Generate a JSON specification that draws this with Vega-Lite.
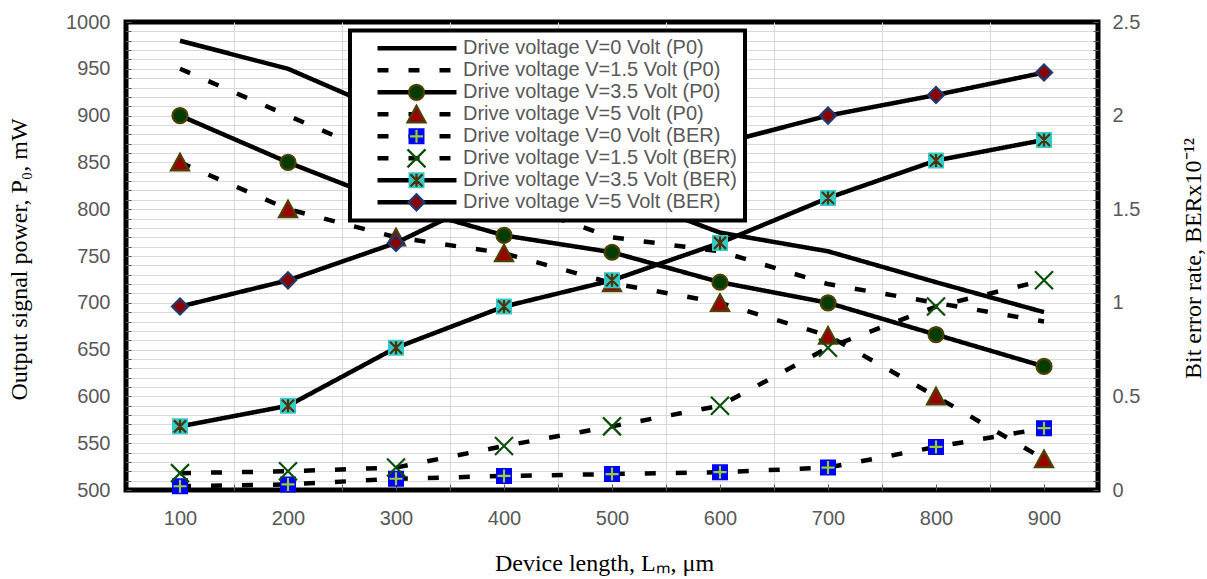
{
  "$schema": "https://vega.github.io/schema/vega-lite/v6.json",
  "width": 972,
  "height": 468,
  "autosize": {"type": "none"},
  "padding": {"left": 126, "top": 22, "right": 109, "bottom": 89},
  "background": "#ffffff",
  "config": {
    "view": {"stroke": "#000000", "strokeWidth": 5},
    "axis": {
      "labelFont": "Liberation Sans",
      "labelFontSize": 20,
      "labelColor": "#595959",
      "titleFont": "Liberation Serif",
      "titleFontSize": 24,
      "titleFontWeight": "normal",
      "titleColor": "#000000",
      "domain": false,
      "gridColor": "#d9d9d9",
      "gridWidth": 1,
      "tickColor": "#595959",
      "tickWidth": 1
    },
    "legend": {
      "labelFont": "Liberation Sans",
      "labelFontSize": 20,
      "labelColor": "#595959",
      "labelLimit": 600,
      "strokeWidth": 4
    }
  },
  "datasets": {
    "p0": [
      {"L": 100, "s": "Drive voltage V=0 Volt (P0)", "P": 980},
      {"L": 200, "s": "Drive voltage V=0 Volt (P0)", "P": 950},
      {"L": 300, "s": "Drive voltage V=0 Volt (P0)", "P": 900},
      {"L": 400, "s": "Drive voltage V=0 Volt (P0)", "P": 860},
      {"L": 500, "s": "Drive voltage V=0 Volt (P0)", "P": 818},
      {"L": 600, "s": "Drive voltage V=0 Volt (P0)", "P": 775},
      {"L": 700, "s": "Drive voltage V=0 Volt (P0)", "P": 755},
      {"L": 800, "s": "Drive voltage V=0 Volt (P0)", "P": 722},
      {"L": 900, "s": "Drive voltage V=0 Volt (P0)", "P": 690},
      {"L": 100, "s": "Drive voltage V=1.5 Volt (P0)", "P": 950},
      {"L": 200, "s": "Drive voltage V=1.5 Volt (P0)", "P": 900},
      {"L": 300, "s": "Drive voltage V=1.5 Volt (P0)", "P": 850},
      {"L": 400, "s": "Drive voltage V=1.5 Volt (P0)", "P": 810},
      {"L": 500, "s": "Drive voltage V=1.5 Volt (P0)", "P": 770},
      {"L": 600, "s": "Drive voltage V=1.5 Volt (P0)", "P": 755},
      {"L": 700, "s": "Drive voltage V=1.5 Volt (P0)", "P": 720},
      {"L": 800, "s": "Drive voltage V=1.5 Volt (P0)", "P": 700},
      {"L": 900, "s": "Drive voltage V=1.5 Volt (P0)", "P": 680},
      {"L": 100, "s": "Drive voltage V=3.5 Volt (P0)", "P": 900},
      {"L": 200, "s": "Drive voltage V=3.5 Volt (P0)", "P": 850},
      {"L": 300, "s": "Drive voltage V=3.5 Volt (P0)", "P": 805},
      {"L": 400, "s": "Drive voltage V=3.5 Volt (P0)", "P": 772},
      {"L": 500, "s": "Drive voltage V=3.5 Volt (P0)", "P": 754},
      {"L": 600, "s": "Drive voltage V=3.5 Volt (P0)", "P": 722},
      {"L": 700, "s": "Drive voltage V=3.5 Volt (P0)", "P": 700},
      {"L": 800, "s": "Drive voltage V=3.5 Volt (P0)", "P": 666},
      {"L": 900, "s": "Drive voltage V=3.5 Volt (P0)", "P": 632},
      {"L": 100, "s": "Drive voltage V=5 Volt (P0)", "P": 850},
      {"L": 200, "s": "Drive voltage V=5 Volt (P0)", "P": 800},
      {"L": 300, "s": "Drive voltage V=5 Volt (P0)", "P": 770},
      {"L": 400, "s": "Drive voltage V=5 Volt (P0)", "P": 753},
      {"L": 500, "s": "Drive voltage V=5 Volt (P0)", "P": 721},
      {"L": 600, "s": "Drive voltage V=5 Volt (P0)", "P": 700},
      {"L": 700, "s": "Drive voltage V=5 Volt (P0)", "P": 665},
      {"L": 800, "s": "Drive voltage V=5 Volt (P0)", "P": 600},
      {"L": 900, "s": "Drive voltage V=5 Volt (P0)", "P": 533}
    ],
    "ber": [
      {"L": 100, "s": "Drive voltage V=0 Volt (BER)", "B": 0.02},
      {"L": 200, "s": "Drive voltage V=0 Volt (BER)", "B": 0.03},
      {"L": 300, "s": "Drive voltage V=0 Volt (BER)", "B": 0.06},
      {"L": 400, "s": "Drive voltage V=0 Volt (BER)", "B": 0.075},
      {"L": 500, "s": "Drive voltage V=0 Volt (BER)", "B": 0.085},
      {"L": 600, "s": "Drive voltage V=0 Volt (BER)", "B": 0.095},
      {"L": 700, "s": "Drive voltage V=0 Volt (BER)", "B": 0.12},
      {"L": 800, "s": "Drive voltage V=0 Volt (BER)", "B": 0.23},
      {"L": 900, "s": "Drive voltage V=0 Volt (BER)", "B": 0.33},
      {"L": 100, "s": "Drive voltage V=1.5 Volt (BER)", "B": 0.09},
      {"L": 200, "s": "Drive voltage V=1.5 Volt (BER)", "B": 0.1},
      {"L": 300, "s": "Drive voltage V=1.5 Volt (BER)", "B": 0.12},
      {"L": 400, "s": "Drive voltage V=1.5 Volt (BER)", "B": 0.235},
      {"L": 500, "s": "Drive voltage V=1.5 Volt (BER)", "B": 0.34},
      {"L": 600, "s": "Drive voltage V=1.5 Volt (BER)", "B": 0.45},
      {"L": 700, "s": "Drive voltage V=1.5 Volt (BER)", "B": 0.76},
      {"L": 800, "s": "Drive voltage V=1.5 Volt (BER)", "B": 0.98},
      {"L": 900, "s": "Drive voltage V=1.5 Volt (BER)", "B": 1.12},
      {"L": 100, "s": "Drive voltage V=3.5 Volt (BER)", "B": 0.34},
      {"L": 200, "s": "Drive voltage V=3.5 Volt (BER)", "B": 0.45},
      {"L": 300, "s": "Drive voltage V=3.5 Volt (BER)", "B": 0.76},
      {"L": 400, "s": "Drive voltage V=3.5 Volt (BER)", "B": 0.98},
      {"L": 500, "s": "Drive voltage V=3.5 Volt (BER)", "B": 1.12},
      {"L": 600, "s": "Drive voltage V=3.5 Volt (BER)", "B": 1.32},
      {"L": 700, "s": "Drive voltage V=3.5 Volt (BER)", "B": 1.56},
      {"L": 800, "s": "Drive voltage V=3.5 Volt (BER)", "B": 1.76},
      {"L": 900, "s": "Drive voltage V=3.5 Volt (BER)", "B": 1.87},
      {"L": 100, "s": "Drive voltage V=5 Volt (BER)", "B": 0.98},
      {"L": 200, "s": "Drive voltage V=5 Volt (BER)", "B": 1.12},
      {"L": 300, "s": "Drive voltage V=5 Volt (BER)", "B": 1.32},
      {"L": 400, "s": "Drive voltage V=5 Volt (BER)", "B": 1.6},
      {"L": 500, "s": "Drive voltage V=5 Volt (BER)", "B": 1.73},
      {"L": 600, "s": "Drive voltage V=5 Volt (BER)", "B": 1.85},
      {"L": 700, "s": "Drive voltage V=5 Volt (BER)", "B": 2.0},
      {"L": 800, "s": "Drive voltage V=5 Volt (BER)", "B": 2.11},
      {"L": 900, "s": "Drive voltage V=5 Volt (BER)", "B": 2.23}
    ]
  },
  "layer": [
    {
      "data": {"name": "p0"},
      "encoding": {
        "x": {
          "field": "L",
          "type": "quantitative",
          "scale": {"domain": [50, 950], "nice": false, "zero": false},
          "axis": {
            "orient": "bottom",
            "values": [100, 150, 200, 250, 300, 350, 400, 450, 500, 550, 600, 650, 700, 750, 800, 850, 900],
            "labelExpr": "datum.value % 100 === 0 ? format(datum.value, 'd') : ''",
            "grid": false,
            "ticks": true,
            "tickSize": -6,
            "labelPadding": 24,
            "title": "Device length, Lₘ, μm",
            "titleAngle": 0,
            "titleAlign": "center",
            "titleBaseline": "alphabetic",
            "titleX": 478,
            "titleY": 80
          }
        },
        "y": {
          "field": "P",
          "type": "quantitative",
          "scale": {"domain": [500, 1000], "nice": false, "zero": false},
          "axis": {
            "orient": "left",
            "values": [500, 510, 520, 530, 540, 550, 560, 570, 580, 590, 600, 610, 620, 630, 640, 650, 660, 670, 680, 690, 700, 710, 720, 730, 740, 750, 760, 770, 780, 790, 800, 810, 820, 830, 840, 850, 860, 870, 880, 890, 900, 910, 920, 930, 940, 950, 960, 970, 980, 990, 1000],
            "labelExpr": "datum.value % 50 === 0 ? format(datum.value, 'd') : ''",
            "grid": true,
            "gridColor": {"condition": {"test": "datum.value === 500 || datum.value === 1000", "value": "transparent"}, "value": "#d9d9d9"},
            "ticks": true,
            "tickSize": -5,
            "labelPadding": 21,
            "title": "Output signal power, P₀, mW",
            "titleAngle": -90,
            "titleAlign": "center",
            "titleBaseline": "alphabetic",
            "titleX": -100,
            "titleY": 237
          }
        }
      },
      "layer": [
        {
          "mark": {"type": "line", "color": "#000000", "strokeWidth": 4.5},
          "encoding": {
            "strokeDash": {
              "field": "s",
              "type": "nominal",
              "scale": {
                "domain": ["Drive voltage V=0 Volt (P0)", "Drive voltage V=1.5 Volt (P0)", "Drive voltage V=3.5 Volt (P0)", "Drive voltage V=5 Volt (P0)", "Drive voltage V=0 Volt (BER)", "Drive voltage V=1.5 Volt (BER)", "Drive voltage V=3.5 Volt (BER)", "Drive voltage V=5 Volt (BER)"],
                "range": [[1, 0], [11, 20], [1, 0], [11, 20], [11, 20], [11, 20], [1, 0], [1, 0]]
              },
              "legend": {
                "orient": "none",
                "legendX": 224,
                "legendY": 8.5,
                "title": null,
                "symbolType": "stroke",
                "symbolSize": 6241,
                "symbolStrokeWidth": 4.5,
                "symbolStrokeColor": "#000000",
                "fillColor": "#ffffff",
                "strokeColor": "#000000",
                "padding": 7,
                "clipHeight": 21.7,
                "rowPadding": 0,
                "symbolOffset": 18,
                "labelOffset": 4,
                "labelExpr": "datum.label + '       '",
                "zindex": 1
              }
            }
          }
        },
        {
          "mark": {"type": "point", "filled": true, "opacity": 1, "size": 400, "strokeWidth": 2.2, "strokeDash": [2000, 70], "strokeDashOffset": 2000},
          "encoding": {
            "shape": {
              "field": "s",
              "type": "nominal",
              "scale": {
                "domain": ["Drive voltage V=0 Volt (P0)", "Drive voltage V=1.5 Volt (P0)", "Drive voltage V=3.5 Volt (P0)", "Drive voltage V=5 Volt (P0)", "Drive voltage V=0 Volt (BER)", "Drive voltage V=1.5 Volt (BER)", "Drive voltage V=3.5 Volt (BER)", "Drive voltage V=5 Volt (BER)", "-"],
                "range": [
                  "circle",
                  "circle",
                  "M0.75,0C0.75,0.4142,0.4142,0.75,0,0.75C-0.4142,0.75,-0.75,0.4142,-0.75,0C-0.75,-0.4142,-0.4142,-0.75,0,-0.75C0.4142,-0.75,0.75,-0.4142,0.75,0C0.75,0.4142,0.4142,0.75,0,0.75C-0.4142,0.75,-0.75,0.4142,-0.75,0C-0.75,-0.4142,-0.4142,-0.75,0,-0.75C0.4142,-0.75,0.75,-0.4142,0.75,0C0.75,0.4142,0.4142,0.75,0,0.75C-0.4142,0.75,-0.75,0.4142,-0.75,0C-0.75,-0.4142,-0.4142,-0.75,0,-0.75C0.4142,-0.75,0.75,-0.4142,0.75,0Z",
                  "M0,-0.85L0.9,0.8L-0.9,0.8L0,-0.85L0.9,0.8L-0.9,0.8L0,-0.85L0.9,0.8L-0.9,0.8Z",
                  "M-0.8,-0.8L0.8,-0.8L0.8,0.8L-0.8,0.8ZM-0.65,0L0.65,0L-0.65,0L0.65,0L-0.65,0L0.65,0L-0.65,0L0.65,0L-0.65,0M0,-0.65L0,0.65L0,-0.65L0,0.65L0,-0.65L0,0.65L0,-0.65L0,0.65L0,-0.65",
                  "M-0.9,-0.9L0.9,0.9L-0.9,-0.9L0.9,0.9L-0.9,-0.9M-0.9,0.9L0.9,-0.9L-0.9,0.9L0.9,-0.9L-0.9,0.9",
                  "M-0.8,-0.8L0.8,-0.8L0.8,0.8L-0.8,0.8ZM-0.6,-0.6L0.6,0.6L-0.6,-0.6L0.6,0.6L-0.6,-0.6L0.6,0.6L-0.6,-0.6M-0.6,0.6L0.6,-0.6L-0.6,0.6L0.6,-0.6L-0.6,0.6L0.6,-0.6L-0.6,0.6M0,-0.65L0,0.65L0,-0.65L0,0.65L0,-0.65L0,0.65L0,-0.65L0,0.65L0,-0.65",
                  "M0,-0.8L0.8,0L0,0.8L-0.8,0L0,-0.8L0.8,0L0,0.8L-0.8,0L0,-0.8L0.8,0L0,0.8L-0.8,0Z",
                  "circle"
                ]
              },
              "legend": {
                "orient": "none",
                "legendX": 224,
                "legendY": 8.5,
                "title": null,
                "symbolSize": 400,
                "symbolStrokeWidth": 2.2,
                "symbolDash": [2000, 70],
                "symbolDashOffset": 2000,
                "symbolOpacity": 1,
                "padding": 7,
                "clipHeight": 21.7,
                "rowPadding": 0,
                "symbolOffset": 48,
                "labelExpr": "''",
                "zindex": 2
              }
            },
            "fill": {
              "field": "s",
              "type": "nominal",
              "scale": {
                "domain": ["Drive voltage V=0 Volt (P0)", "Drive voltage V=1.5 Volt (P0)", "Drive voltage V=3.5 Volt (P0)", "Drive voltage V=5 Volt (P0)", "Drive voltage V=0 Volt (BER)", "Drive voltage V=1.5 Volt (BER)", "Drive voltage V=3.5 Volt (BER)", "Drive voltage V=5 Volt (BER)", "-"],
                "range": ["transparent", "transparent", "#033d03", "#990000", "#0000ff", "transparent", "#33cccc", "#8b0000", "transparent"]
              }
            },
            "stroke": {
              "field": "s",
              "type": "nominal",
              "scale": {
                "domain": ["Drive voltage V=0 Volt (P0)", "Drive voltage V=1.5 Volt (P0)", "Drive voltage V=3.5 Volt (P0)", "Drive voltage V=5 Volt (P0)", "Drive voltage V=0 Volt (BER)", "Drive voltage V=1.5 Volt (BER)", "Drive voltage V=3.5 Volt (BER)", "Drive voltage V=5 Volt (BER)", "-"],
                "range": ["transparent", "transparent", "#4d4000", "#4d4000", "#9acd32", "#0b4f0b", "#4d3300", "#1f3a6e", "transparent"]
              }
            }
          }
        }
      ]
    },
    {
      "data": {"name": "ber"},
      "encoding": {
        "x": {
          "field": "L",
          "type": "quantitative",
          "scale": {"domain": [50, 950], "nice": false, "zero": false},
          "axis": {
            "orient": "top",
            "values": [150, 250, 350, 450, 550, 650, 750, 850],
            "grid": true,
            "labels": false,
            "ticks": false,
            "domain": false,
            "title": null
          }
        },
        "y": {
          "field": "B",
          "type": "quantitative",
          "scale": {"domain": [0, 2.5], "nice": false, "zero": false},
          "axis": {
            "orient": "right",
            "values": [0, 0.05, 0.1, 0.15, 0.2, 0.25, 0.3, 0.35, 0.4, 0.45, 0.5, 0.55, 0.6, 0.65, 0.7, 0.75, 0.8, 0.85, 0.9, 0.95, 1, 1.05, 1.1, 1.15, 1.2, 1.25, 1.3, 1.35, 1.4, 1.45, 1.5, 1.55, 1.6, 1.65, 1.7, 1.75, 1.8, 1.85, 1.9, 1.95, 2, 2.05, 2.1, 2.15, 2.2, 2.25, 2.3, 2.35, 2.4, 2.45, 2.5],
            "labelExpr": "abs(datum.value * 2 - round(datum.value * 2)) < 0.000001 ? format(datum.value, '~g') : ''",
            "grid": false,
            "ticks": true,
            "tickSize": -5,
            "labelPadding": 19,
            "title": "Bit error rate, BERx10⁻¹²",
            "titleAngle": -90,
            "titleAlign": "center",
            "titleBaseline": "alphabetic",
            "titleX": 102,
            "titleY": 236
          }
        }
      },
      "layer": [
        {
          "mark": {"type": "line", "color": "#000000", "strokeWidth": 4.5},
          "encoding": {
            "strokeDash": {
              "field": "s",
              "type": "nominal",
              "scale": {
                "domain": ["Drive voltage V=0 Volt (P0)", "Drive voltage V=1.5 Volt (P0)", "Drive voltage V=3.5 Volt (P0)", "Drive voltage V=5 Volt (P0)", "Drive voltage V=0 Volt (BER)", "Drive voltage V=1.5 Volt (BER)", "Drive voltage V=3.5 Volt (BER)", "Drive voltage V=5 Volt (BER)"],
                "range": [[1, 0], [11, 20], [1, 0], [11, 20], [11, 20], [11, 20], [1, 0], [1, 0]]
              }
            }
          }
        },
        {
          "mark": {"type": "point", "filled": true, "opacity": 1, "size": 400, "strokeWidth": 2.2, "strokeDash": [2000, 70], "strokeDashOffset": 2000},
          "encoding": {
            "shape": {"field": "s", "type": "nominal"},
            "fill": {"field": "s", "type": "nominal"},
            "stroke": {"field": "s", "type": "nominal"}
          }
        }
      ]
    }
  ],
  "resolve": {"scale": {"y": "independent"}, "axis": {"x": "independent"}}
}
